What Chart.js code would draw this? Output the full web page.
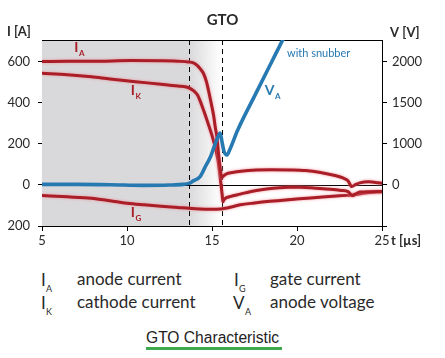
<!DOCTYPE html>
<html><head><meta charset="utf-8">
<script src="https://cdn.jsdelivr.net/npm/chart.js@4.4.1/dist/chart.umd.min.js"></script>
<style>
html,body{margin:0;padding:0;background:#fff;}
body{width:445px;height:358px;position:relative;overflow:hidden;font-family:Lato,'Open Sans',sans-serif;color:#2a2a2a;}
#box{position:absolute;left:0;top:0;width:445px;height:262px;}
.t{position:absolute;white-space:nowrap;line-height:1;}
.big{font-size:17px;}
.sym{font-size:17px;}
.sub{font-size:9px;}
#cap{position:absolute;left:146px;top:330px;font-family:'Liberation Sans',Arial,sans-serif;font-size:15.6px;color:#222;line-height:1;white-space:nowrap;}
#uline{position:absolute;left:146px;top:347px;width:136px;height:3px;background:#3ea94f;}
</style></head>
<body>
<div id="box"><canvas id="c"></canvas></div>

<div class="t sym" style="left:41px;top:271px">I</div><div class="t sub" style="left:46px;top:284px">A</div>
<div class="t big" style="left:77px;top:270px">anode current</div>
<div class="t sym" style="left:41px;top:294px">I</div><div class="t sub" style="left:46px;top:307px">K</div>
<div class="t big" style="left:77px;top:293px">cathode current</div>
<div class="t sym" style="left:234px;top:271px">I</div><div class="t sub" style="left:239px;top:284px">G</div>
<div class="t big" style="left:270px;top:270px">gate current</div>
<div class="t sym" style="left:233px;top:294px">V</div><div class="t sub" style="left:245px;top:307px">A</div>
<div class="t big" style="left:270px;top:293px">anode voltage</div>
<div id="cap">GTO Characteristic</div>
<div id="uline"></div>

<script>
// ---- data ----
const xTicks = [5, 10, 15, 20, 25];
const leftTicks = [-200, 0, 200, 400, 600];
const leftTickLabels = ['200', '0', '200', '400', '600'];
const rightTicks = [0, 500, 1000, 1500, 2000];
const rightTickLabels = ['', '0', '1000', '1500', '2000'];
const markerTimes = [13.64, 15.56];

// anode current I_A [A]
const iaT = [5, 6.5, 8.4, 10.2, 12, 13.2, 13.62, 13.9, 14.11, 14.3, 14.5, 14.68, 14.79, 14.95, 15.09, 15.19, 15.29, 15.39, 15.48, 15.57, 15.68, 15.85, 16.2, 16.7, 17.6, 18.5, 19.6, 20.5, 21.3, 22.1, 22.7, 23.0, 23.22, 23.45, 23.7, 24.2, 25];
const iaV = [600, 601, 602, 605, 604, 601, 598, 594, 583, 566, 542, 500, 461, 398, 340, 282, 233, 146, 83, 34, 44, 54, 60, 66, 72, 74, 73, 70, 62, 48, 34, 20, -8, 2, 10, 15, 8];

// cathode current I_K [A]
const ikT = [5, 6.5, 7.9, 9.0, 10.5, 12.0, 13.0, 13.6, 13.95, 14.15, 14.5, 14.8, 15.08, 15.35, 15.5, 15.6, 15.64, 15.72, 15.85, 16.1, 16.66, 17.3, 18.0, 18.6, 19.5, 20.2, 21.1, 21.95, 22.6, 23.0, 23.25, 23.45, 23.7, 24.3, 25];
const ikV = [543, 536, 526, 515, 502, 490, 481, 474, 456, 437, 364, 291, 218, 121, 24, -49, -83, -70, -62, -56, -45, -32, -22, -16, -12, -11, -16, -21, -27, -33, -52, -44, -35, -33, -32];

// gate current I_G [A]
const igT = [5, 6.5, 7.9, 9.0, 10.0, 11.0, 12.0, 13.0, 13.64, 14.3, 14.9, 15.5, 15.78, 16.2, 16.66, 17.5, 18.4, 19.5, 20.6, 21.5, 22.5, 23.1, 23.3, 24.0, 25];
const igV = [-52, -58, -65, -77, -89, -97, -104, -110, -114, -117, -118, -117, -114, -106, -97, -88, -80, -72, -65, -59, -53, -50, -49, -40, -33];

// anode voltage V_A [V] (with snubber)
const vaT = [5, 7, 9, 11, 12.5, 13.3, 13.64, 13.9, 14.3, 14.6, 14.9, 15.1, 15.3, 15.48, 15.6, 15.72, 15.88, 16.05, 16.5, 17.5, 18.5, 19.2, 19.5];
const vaV = [506, 506, 502, 494, 498, 506, 518, 549, 601, 720, 836, 949, 1058, 1131, 1010, 900, 864, 930, 1161, 1580, 1992, 2280, 2402];

const RED = '#aa1e28', BLUE = '#2779b2', GRAY = '#d9d9db';
const pts = (ts, vs) => ts.map((t, i) => ({x: t, y: vs[i]}));
const FONT = 'Lato, "Open Sans", sans-serif';

const decor = {
  id: 'decor',
  beforeDatasetsDraw(chart) {
    const {ctx, chartArea: a, scales} = chart;
    const x1 = scales.x.getPixelForValue(markerTimes[0]);
    const x2 = scales.x.getPixelForValue(markerTimes[1]);
    ctx.save();
    ctx.fillStyle = GRAY;
    ctx.fillRect(a.left, a.top, x1 - a.left, a.bottom - a.top);
    const g = ctx.createLinearGradient(x1, 0, x2, 0);
    g.addColorStop(0, GRAY); g.addColorStop(1, '#ffffff');
    ctx.fillStyle = g;
    ctx.fillRect(x1, a.top, x2 - x1, a.bottom - a.top);
    const y0 = Math.round(scales.y.getPixelForValue(0)) + 0.5;
    ctx.strokeStyle = '#000'; ctx.lineWidth = 1;
    ctx.beginPath(); ctx.moveTo(a.left, y0); ctx.lineTo(a.right, y0); ctx.stroke();
    ctx.setLineDash([5, 4]);
    [x1, x2].forEach(x => {
      const xx = Math.round(x) + 0.5;
      ctx.beginPath(); ctx.moveTo(xx, a.top); ctx.lineTo(xx, a.bottom); ctx.stroke();
    });
    ctx.setLineDash([]);
    ctx.beginPath(); ctx.moveTo(a.left, a.top + 0.5); ctx.lineTo(a.right, a.top + 0.5); ctx.stroke();
    ctx.restore();
  },
  beforeDatasetDraw(chart, args) {
    const ds = chart.data.datasets[args.index];
    chart.ctx.save();
    if (ds.halo) { chart.ctx.shadowColor = ds.halo; chart.ctx.shadowBlur = 3; }
  },
  afterDatasetDraw(chart) { chart.ctx.restore(); },
  afterDraw(chart) {
    const {ctx, scales} = chart;
    ctx.save();
    ctx.textBaseline = 'middle';
    ctx.fillStyle = '#2a2a2a';
    ctx.font = 'bold 13px ' + FONT;
    ctx.textAlign = 'left';
    ctx.fillText('I [A]', 7, 32);
    ctx.fillText('V [V]', 390, 33);
    ctx.fillText('t [µs]', 391, 241);
    const lab = (main, sub, t, v, color, axis) => {
      const x = scales.x.getPixelForValue(t), y = scales[axis].getPixelForValue(v);
      ctx.fillStyle = color;
      ctx.font = 'bold 14px ' + FONT;
      ctx.fillText(main, x, y);
      const w = ctx.measureText(main).width;
      ctx.font = 'bold 8px ' + FONT;
      ctx.fillText(sub, x + w + 0.5, y + 6);
    };
    lab('I', 'A', 6.9, 667, RED, 'y');
    lab('I', 'K', 10.22, 461, RED, 'y');
    lab('I', 'G', 10.22, -136, RED, 'y');
    lab('V', 'A', 18.1, 1650, BLUE, 'y2');
    ctx.fillStyle = BLUE;
    ctx.font = '11px ' + FONT;
    ctx.fillText('with snubber', 287, 53);
    ctx.restore();
  }
};

const tickFont = {family: FONT, size: 13};
new Chart(document.getElementById('c'), {
  type: 'line',
  data: {
    datasets: [
      {label: 'V_A', data: pts(vaT, vaV), yAxisID: 'y2', borderColor: BLUE, borderWidth: 3.6, order: 0},
      {label: 'I_A', data: pts(iaT, iaV), yAxisID: 'y', borderColor: RED, borderWidth: 3, halo: 'rgba(240,140,150,0.9)', order: 1},
      {label: 'I_K', data: pts(ikT, ikV), yAxisID: 'y', borderColor: RED, borderWidth: 3, halo: 'rgba(240,140,150,0.9)', order: 2},
      {label: 'I_G', data: pts(igT, igV), yAxisID: 'y', borderColor: RED, borderWidth: 3, halo: 'rgba(240,140,150,0.9)', order: 3}
    ]
  },
  options: {
    responsive: true, maintainAspectRatio: false, animation: false,
    layout: {padding: 0},
    elements: {point: {radius: 0}, line: {cubicInterpolationMode: 'monotone', borderCapStyle: 'round', borderJoinStyle: 'round'}},
    datasets: {line: {clip: 0, fill: false}},
    plugins: {
      legend: {display: false}, tooltip: {enabled: false},
      title: {display: true, text: 'GTO', color: '#2a2a2a', font: {family: FONT, size: 15, weight: 'bold'}, padding: {top: 11, bottom: 11}}
    },
    scales: {
      x: {
        type: 'linear', min: 5, max: 25, position: 'bottom',
        afterBuildTicks: s => { s.ticks = xTicks.map(v => ({value: v})); },
        afterFit: s => { s.height = 36; },
        grid: {display: true, drawOnChartArea: false, drawTicks: true, tickLength: 5, color: '#000'},
        border: {display: true, color: '#000', width: 1},
        ticks: {font: tickFont, color: '#2a2a2a', padding: 2, maxRotation: 0, autoSkip: false}
      },
      y: {
        type: 'linear', min: -200, max: 705, position: 'left',
        afterBuildTicks: s => { s.ticks = leftTicks.map(v => ({value: v})); },
        afterFit: s => { s.width = 42; },
        grid: {display: true, drawOnChartArea: false, drawTicks: true, tickLength: 4, color: '#000'},
        border: {display: true, color: '#000', width: 1},
        ticks: {font: tickFont, color: '#2a2a2a', padding: 8, callback: (v, i) => leftTickLabels[i]}
      },
      y2: {
        type: 'linear', min: 0, max: 2262.5, position: 'right',
        afterBuildTicks: s => { s.ticks = rightTicks.map(v => ({value: v})); },
        afterFit: s => { s.width = 63; },
        grid: {display: true, drawOnChartArea: false, drawTicks: true, tickLength: 5, color: '#000'},
        border: {display: true, color: '#000', width: 1},
        ticks: {font: tickFont, color: '#2a2a2a', padding: 5, callback: (v, i) => rightTickLabels[i]}
      }
    }
  },
  plugins: [decor]
});
</script>
</body></html>
